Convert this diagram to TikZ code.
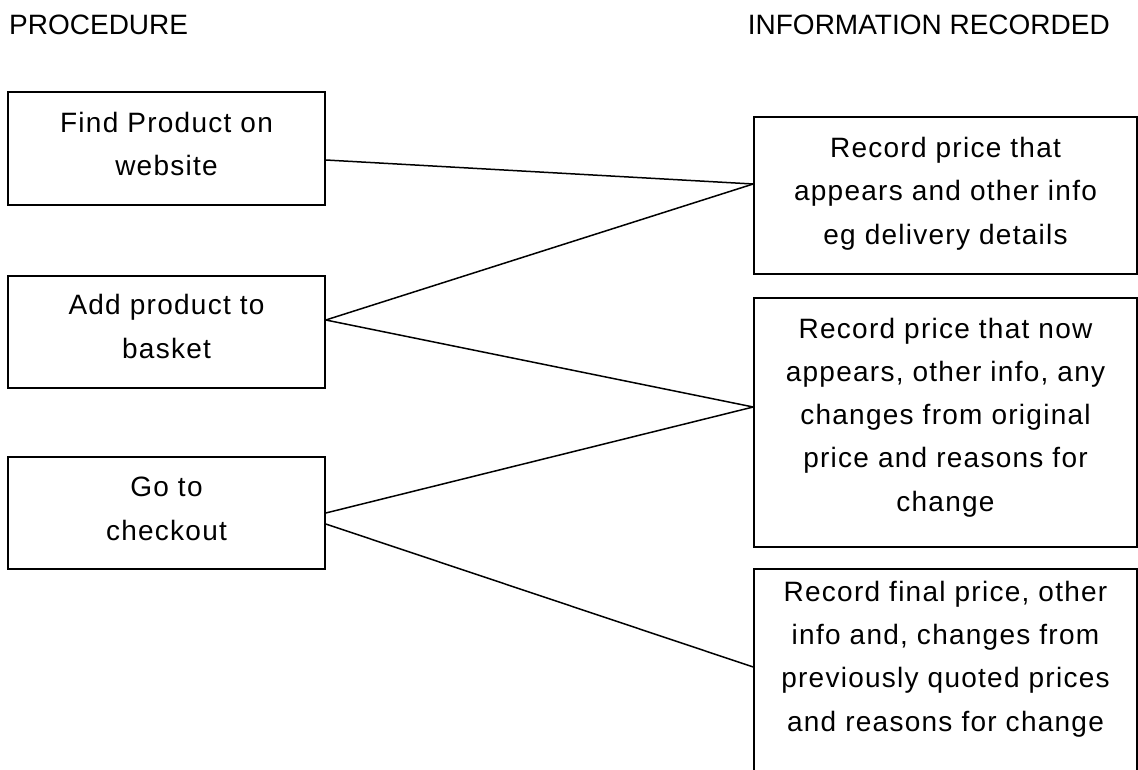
\documentclass[tikz,border=0pt]{standalone}
\usepackage{fontspec}
\setmainfont{Liberation Sans}
\newfontfamily\bodyfont{Liberation Sans}[LetterSpace=4.5]
\begin{document}
\begin{tikzpicture}[x=1pt,y=-1pt,
  box/.style={draw, line width=1.6pt, inner sep=0pt},
  txt/.style={font=\bodyfont\fontsize{28}{43.2}\selectfont, align=center, anchor=base, inner sep=0pt},
  head/.style={font=\fontsize{28}{34}\selectfont, inner sep=0pt, anchor=base},
  link/.style={line width=1.5pt}]
\useasboundingbox (0,0) rectangle (1138,770);
\clip (0,0) rectangle (1138,770);
\fill[white] (0,0) rectangle (1138,770);

% headers
\node[head, anchor=base west] (h1) at (9,35) {PROCEDURE};
\node[head, anchor=base east] (h2) at (1110,35) {INFORMATION RECORDED};

% left boxes
\node[box, minimum width=317pt, minimum height=113pt] (L1) at (166.5,148.5) {};
\node[box, minimum width=317pt, minimum height=112pt] (L2) at (166.5,332) {};
\node[box, minimum width=317pt, minimum height=112pt] (L3) at (166.5,513) {};

% right boxes
\node[box, minimum width=383pt, minimum height=157pt] (R1) at (945.5,195.5) {};
\node[box, minimum width=383pt, minimum height=249pt] (R2) at (945.5,422.5) {};
\node[box, minimum width=383pt, minimum height=221pt] (R3) at (945.5,679.5) {};

% texts (anchored at the baseline of the last line)
\node[txt] (L1t) at (166.5,176) {Find Product on\\website};
\node[txt] (L2t) at (166.5,358) {Add product to\\basket};
\node[txt] (L3t) at (166.5,540) {Go to\\checkout};
\node[txt] (R1t) at (945.5,244) {Record price that\\appears and other info\\eg delivery details};
\node[txt] (R2t) at (945.5,511) {Record price that now\\appears, other info, any\\changes from original\\price and reasons for\\change};
\node[txt] (R3t) at (945.5,731) {Record final price, other\\info and, changes from\\previously quoted prices\\and reasons for change};

% connectors
\draw[link] ([yshift=-11.5pt]L1.east) -- ([yshift=11.5pt]R1.west);
\draw[link] ([yshift=12pt]L2.east) -- ([yshift=11.5pt]R1.west);
\draw[link] ([yshift=12pt]L2.east) -- ([yshift=15.5pt]R2.west);
\draw[link] (L3.east) -- ([yshift=15.5pt]R2.west);
\draw[link] ([yshift=-11pt]L3.east) -- ([yshift=12.5pt]R3.west);
\end{tikzpicture}
\end{document}
